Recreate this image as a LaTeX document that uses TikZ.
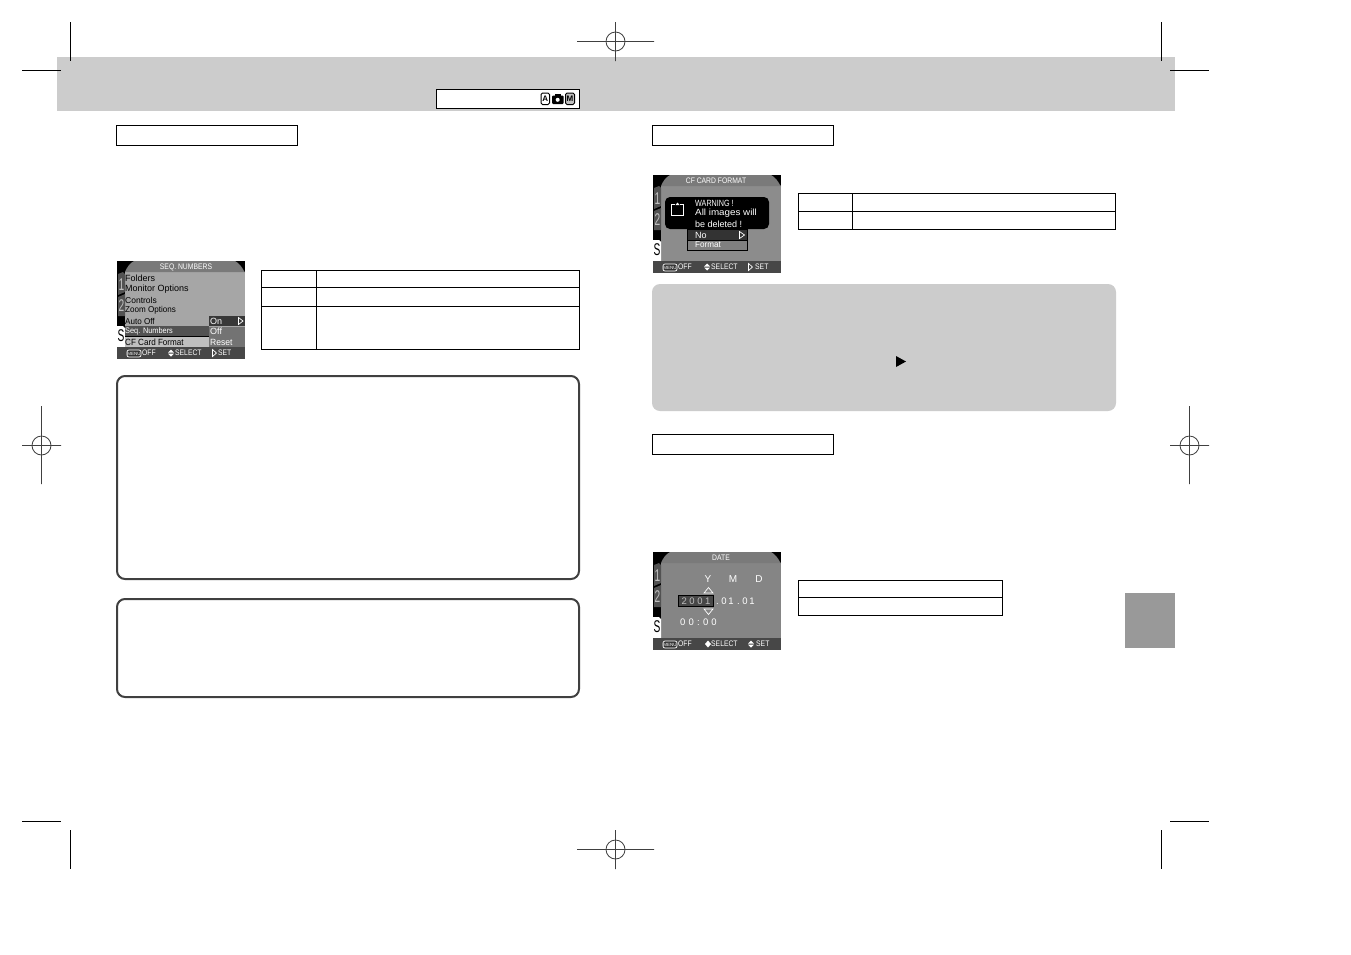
\documentclass[tikz,border=0pt]{standalone}
\usepackage{fontspec}
\setmainfont{Liberation Sans}
\newcommand{\lcdfont}[1]{\fontsize{#1}{#1}\selectfont}
\colorlet{lcdbody}{black!35}
\tikzset{
  crop/.style={draw=black,line width=1pt},
  reg/.style={draw=black!75,line width=.8pt},
  tbl/.style={draw=black,line width=.8pt},
  framebox/.style={draw=black!75,line width=2pt,rounded corners=8pt},
  txt/.style={inner sep=0pt,anchor=west,font=\lcdfont{9}},
  ttl/.style={inner sep=0pt,font=\lcdfont{8},text=white,xscale=.85},
  foot/.style={inner sep=0pt,anchor=west,font=\lcdfont{8},text=white,xscale=.85},
  tabnum/.style={inner sep=0pt,font=\lcdfont{17},text=black!25,xscale=.6},
  icon/.style={inner sep=0pt,font=\bfseries\lcdfont{8}}
}
% #1 prefix, #2 x, #3 y, #4 title, #5 title x, #6 footer-select x, #7 footer-set x
\newcommand{\lcdscreen}[7]{%
  \begin{scope}[shift={(#2,#3)}]
    \fill[black] (0,0) rectangle (128,97.5);
    \fill[lcdbody] (8,11) rectangle (128,86);
    \fill[black!52] (8,11) .. controls (10,6) and (13,2) .. (17,0) -- (118,0) .. controls (122,2) and (125,6) .. (127,10) -- (128,11) -- cycle;
    \fill[black!68] (1,13) -- (6,11) -- (8,13) -- (8,31) -- (1,34) -- cycle;
    \fill[black!68] (1,36) -- (8,33) -- (8,55) -- (1,55) -- cycle;
    \fill[white] (0,65) -- (6,65) -- (8,67) -- (8,86) -- (0,86) -- cycle;
    \fill[black!72] (0,86) rectangle (128,97.5);
    \node[tabnum] (#1t1) at (4.5,24) {1};
    \node[tabnum] (#1t2) at (4.5,45) {2};
    \node[tabnum,text=black] (#1t3) at (4,75) {S};
    \node[ttl] (#1ttl) at (#5,6) {#4};
    \draw[white,line width=.7pt,fill=black!80,rounded corners=2pt] (10,89) rectangle (24,96);
    \node[inner sep=0pt,font=\lcdfont{4.5},text=white] (#1menu) at (17,92.5) {MENU};
    \node[foot] (#1off) at (25,92) {OFF};
    \node[foot] (#1sel) at (#6,92) {SELECT};
    \node[foot] (#1set) at (#7,92) {SET};
  \end{scope}}
\newcommand{\updn}[2]{\fill[white] (#1-3,#2-.5) -- (#1,#2-3.5) -- (#1+3,#2-.5) -- cycle;
  \fill[white] (#1-3,#2+.5) -- (#1,#2+3.5) -- (#1+3,#2+.5) -- cycle;}
\begin{document}
\begin{tikzpicture}[x=1pt,y=-1pt]
\useasboundingbox (0,0) rectangle (1351,954);
\fill[white] (0,0) rectangle (1351,954);
% header band
\fill[black!20] (57,57) rectangle (1175,111);
% crop marks
\draw[crop] (70.5,22) -- (70.5,61) (22,70.5) -- (61,70.5);
\draw[crop] (1161.5,22) -- (1161.5,61) (1170,70.5) -- (1209,70.5);
\draw[crop] (70.5,830) -- (70.5,869) (22,821.5) -- (61,821.5);
\draw[crop] (1161.5,830) -- (1161.5,869) (1170,821.5) -- (1209,821.5);
% registration marks
\draw[reg] (615.5,41.5) circle (9.5) (577,41.5) -- (654,41.5) (615.5,22) -- (615.5,61);
\draw[reg] (615.5,849.5) circle (9.5) (577,849.5) -- (654,849.5) (615.5,830) -- (615.5,869);
\draw[reg] (41.5,445.5) circle (9.5) (22,445.5) -- (61,445.5) (41.5,406) -- (41.5,484);
\draw[reg] (1189.5,445.5) circle (9.5) (1170,445.5) -- (1209,445.5) (1189.5,406) -- (1189.5,484);
% mode box
\draw[tbl,fill=white,line width=1pt] (436.5,89.5) rectangle (579.5,108.5);
\draw[black,line width=1pt,rounded corners=1.5pt] (541,93) rectangle (549.5,104.5);
\node[icon] (modeA) at (545.2,98.8) {A};
\fill[black,rounded corners=1pt] (552,95.5) rectangle (563.5,104);
\fill[black] (555,94) rectangle (560.5,96);
\fill[white] (557.7,99.8) circle (2);
\draw[black,fill=black!25,line width=1pt,rounded corners=1.5pt] (565.5,93) rectangle (574.5,104.5);
\node[icon] (modeM) at (570,98.8) {M};
% section boxes
\draw[tbl] (116.5,125.5) rectangle (297.5,145.5);
\draw[tbl] (652.5,125.5) rectangle (833.5,145.5);
\draw[tbl] (652.5,434.5) rectangle (833.5,454.5);
% tables
\draw[tbl] (261.5,270.5) rectangle (579.5,349.5) (261.5,287.5) -- (579.5,287.5) (261.5,306.5) -- (579.5,306.5) (316.5,270.5) -- (316.5,349.5);
\draw[tbl] (798.5,193.5) rectangle (1115.5,229.5) (798.5,211.5) -- (1115.5,211.5) (852.5,193.5) -- (852.5,229.5);
\draw[tbl] (798.5,580.5) rectangle (1002.5,615.5) (798.5,597.5) -- (1002.5,597.5);
% frames
\draw[framebox] (117,376) rectangle (579,579);
\draw[framebox] (117,599) rectangle (579,697);
\fill[black!20,rounded corners=8pt] (652,284) rectangle (1116,411);
\fill[black] (896,356) -- (906,361.5) -- (896,367) -- cycle;
\fill[black!40] (1125,593) rectangle (1175,648);
% --- screen 1
\lcdscreen{a}{117}{261}{SEQ. NUMBERS}{69}{58}{101}
\fill[black!68] (125,326) rectangle (209,336);
\fill[black!25] (125,337) rectangle (209,347);
\draw[black,line width=.8pt] (125,336.5) -- (209,336.5);
\fill[black!78] (209,316) rectangle (245,326);
\fill[black!55] (209,326.5) rectangle (245,347);
\node[txt] (a1) at (125,278) {Folders};
\node[txt] (a2) at (125,289) {Monitor Options};
\node[txt,font=\lcdfont{8.5}] (a3) at (125,300) {Controls};
\node[txt,font=\lcdfont{8.5},xscale=.95] (a4) at (125,310) {Zoom Options};
\node[txt,font=\lcdfont{8.5},xscale=.95] (a5) at (125,321) {Auto Off};
\node[txt,font=\lcdfont{8},text=white,xscale=.92] (a6) at (125,331) {Seq. Numbers};
\node[txt,xscale=.9] (a7) at (125,342) {CF Card Format};
\node[txt,text=white] (a8) at (210,321) {On};
\node[txt,text=white] (a9) at (210,331) {Off};
\node[txt,text=white,xscale=.95] (a10) at (210,342) {Reset};
\draw[white,line width=.7pt] (238.5,317.5) -- (243,321) -- (238.5,324.5) -- cycle;
\updn{171}{353}
\draw[white,line width=.7pt] (212.5,349.5) -- (216.5,353) -- (212.5,356.5) -- cycle;
% --- screen 2
\colorlet{lcdbody}{black!45}
\lcdscreen{b}{653}{175}{CF CARD FORMAT}{63}{58}{102}
\fill[black,rounded corners=5pt] (665,197) rectangle (769,229);
\draw[white,line width=1pt] (675,204) -- (671.5,204) -- (671.5,215.5) -- (683.5,215.5) -- (683.5,204) -- (680,204);
\fill[white] (675.5,205) -- (677.5,202.5) -- (679.5,205) -- cycle;
\node[txt,text=white,xscale=.8] (b1) at (695,203) {WARNING !};
\node[txt,text=white,xscale=1.09] (b2) at (695,213) {All images will};
\node[txt,text=white] (b3) at (695,224) {be deleted !};
\draw[black,fill=black!80,line width=.8pt] (687,229.5) rectangle (747,240);
\draw[black,fill=black!50,line width=.8pt] (687,240) rectangle (747,250);
\node[txt,text=white] (b4) at (695,235) {No};
\node[txt,text=white,font=\lcdfont{8.5},xscale=.95] (b5) at (695,245) {Format};
\draw[white,line width=.7pt] (739.5,231.5) -- (744.5,235) -- (739.5,238.5) -- cycle;
\updn{707}{267}
\draw[white,line width=.7pt] (748.5,263.5) -- (752.5,267) -- (748.5,270.5) -- cycle;
% --- screen 3
\colorlet{lcdbody}{black!48}
\lcdscreen{c}{653}{552}{DATE}{68}{58}{103}
\node[inner sep=0pt,font=\lcdfont{10},text=white] (cy) at (708,579) {Y};
\node[inner sep=0pt,font=\lcdfont{10},text=white] (cm) at (733,579) {M};
\node[inner sep=0pt,font=\lcdfont{10},text=white] (cd) at (759,579) {D};
\draw[white,fill=black!48,line width=.7pt] (708.5,587.5) -- (713,593) -- (704,593) -- cycle;
\draw[white,fill=black!48,line width=.7pt] (704,609) -- (713,609) -- (708.5,614.5) -- cycle;
\draw[black,fill=black!72,line width=1pt] (678.5,595.5) rectangle (713.5,606.5);
\node[inner sep=0pt,font=\lcdfont{9.5},text=black!25] (c1) at (696,601) {2\hspace{2.6pt}0\hspace{2.6pt}0\hspace{2.6pt}1};
\node[inner sep=0pt,font=\lcdfont{9.5},text=white,anchor=west] (c2) at (716,601) {.\hspace{2.5pt}0\hspace{1.8pt}1\hspace{3.5pt}.\hspace{2.5pt}0\hspace{1.8pt}1};
\node[inner sep=0pt,font=\lcdfont{9.5},text=white,anchor=west] (c3) at (680,622) {0\hspace{3.2pt}0\hspace{3.2pt}:\hspace{3.2pt}0\hspace{3.2pt}0};
\fill[white] (705,644) -- (708,640.5) -- (711,644) -- (708,647.5) -- cycle;
\updn{751}{644}
\end{tikzpicture}
\end{document}
